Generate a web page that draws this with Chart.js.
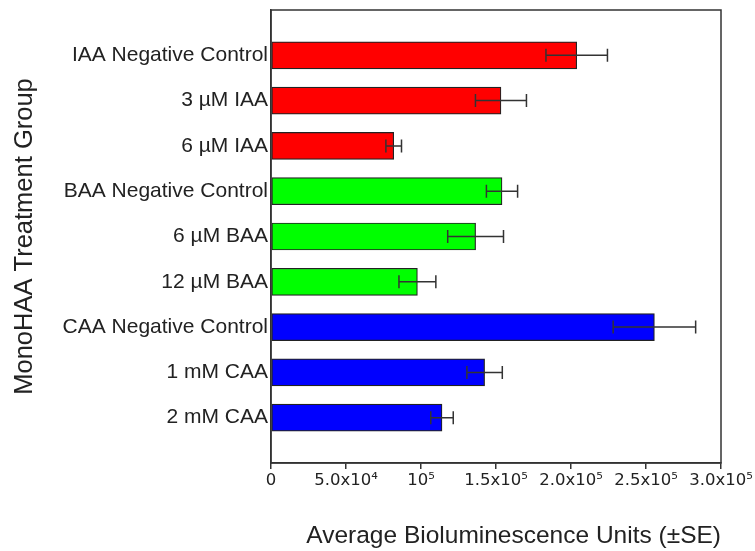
<!DOCTYPE html>
<html>
<head>
<meta charset="utf-8">
<script src="https://cdn.jsdelivr.net/npm/chart.js@4.4.0/dist/chart.umd.min.js"></script>
<style>
  html, body { margin: 0; padding: 0; background: #fff; }
  #wrap { width: 755px; height: 551px; }
</style>
</head>
<body>
<div id="wrap"><canvas id="c" width="755" height="551"></canvas></div>
<script>
const categories = ['IAA Negative Control', '3 µM IAA', '6 µM IAA', 'BAA Negative Control', '6 µM BAA', '12 µM BAA', 'CAA Negative Control', '1 mM CAA', '2 mM CAA'];
const means = [203800, 153300, 81800, 154000, 136400, 97600, 255600, 142400, 114000];
const stdErrors = [20500, 17000, 5200, 10400, 18600, 12300, 27500, 11800, 7500];
const barColors = ['#ff0000', '#ff0000', '#ff0000', '#00ff00', '#00ff00', '#00ff00', '#0000ff', '#0000ff', '#0000ff'];
const tickLabels = ['0', '5.0x10⁴', '10⁵', '1.5x10⁵', '2.0x10⁵', '2.5x10⁵', '3.0x10⁵'];
const xTitle = 'Average Bioluminescence Units (±SE)';
const yTitle = 'MonoHAA Treatment Group';

// pad the category axis with an empty slot at each end
const yLabels = [''].concat(categories, ['']);
const yData = [null].concat(means, [null]);
const yColors = ['#000'].concat(barColors, ['#000']);
const yErr = [null].concat(stdErrors, [null]);

const FONT = "'Liberation Sans', Arial, Helvetica, sans-serif";
const TICKFONT = "'DejaVu Sans', sans-serif";
const INK = '#333';

const errorBarPlugin = {
  id: 'errorBars',
  afterDatasetsDraw(chart) {
    const ctx = chart.ctx;
    const xs = chart.scales.x;
    const meta = chart.getDatasetMeta(0);
    ctx.save();
    ctx.strokeStyle = INK;
    ctx.lineWidth = 1.5;
    meta.data.forEach((bar, i) => {
      const v = yData[i], e = yErr[i];
      if (v == null || e == null) return;
      const y = bar.y;
      const x1 = xs.getPixelForValue(v - e);
      const x2 = xs.getPixelForValue(v + e);
      const cap = 6.5;
      ctx.beginPath();
      ctx.moveTo(x1, y); ctx.lineTo(x2, y);
      ctx.moveTo(x1, y - cap); ctx.lineTo(x1, y + cap);
      ctx.moveTo(x2, y - cap); ctx.lineTo(x2, y + cap);
      ctx.stroke();
    });
    ctx.restore();
  }
};

const framePlugin = {
  id: 'frame',
  afterDraw(chart) {
    const a = chart.chartArea;
    const ctx = chart.ctx;
    ctx.save();
    ctx.strokeStyle = INK;
    ctx.lineWidth = 1.5;
    ctx.strokeRect(a.left, a.top, a.right - a.left, a.bottom - a.top);
    ctx.restore();
  }
};

new Chart(document.getElementById('c'), {
  type: 'bar',
  data: {
    labels: yLabels,
    datasets: [{
      data: yData,
      backgroundColor: yColors,
      borderColor: '#222',
      borderWidth: 1.2,
      borderSkipped: false,
      barThickness: 27
    }]
  },
  plugins: [errorBarPlugin, framePlugin],
  options: {
    indexAxis: 'y',
    responsive: false,
    animation: false,
    devicePixelRatio: 1,
    layout: { padding: { left: 0, right: 34, top: 10, bottom: 0 } },
    plugins: { legend: { display: false }, tooltip: { enabled: false } },
    scales: {
      x: {
        type: 'linear',
        min: 0,
        max: 300000,
        afterBuildTicks(scale) {
          scale.ticks = tickLabels.map((t, i) => ({ value: i * 50000 }));
        },
        ticks: {
          autoSkip: false,
          maxRotation: 0,
          padding: 2,
          color: '#222',
          font: { family: TICKFONT, size: 16.5 },
          callback: (v, i) => tickLabels[i]
        },
        grid: { display: true, drawOnChartArea: false, drawTicks: true, tickLength: 6, color: INK, lineWidth: 1.5 },
        border: { display: true, color: INK, width: 1.5 },
        title: {
          display: true,
          align: 'end',
          text: xTitle,
          color: '#222',
          font: { family: FONT, size: 24.5 },
          padding: { top: 0, bottom: 0 }
        },
        afterFit(scale) { scale.height = 88; }
      },
      y: {
        type: 'category',
        offset: false,
        ticks: {
          autoSkip: false,
          padding: 3,
          color: '#222',
          font: { family: FONT, size: 21 }
        },
        grid: { display: false, drawTicks: false },
        border: { display: true, color: INK, width: 1.5 },
        title: {
          display: true,
          text: yTitle,
          color: '#222',
          font: { family: FONT, size: 25.5 },
          padding: { top: 10, bottom: 0 }
        },
        afterFit(scale) { scale.width = 271; scale.paddingTop = 0; scale.paddingBottom = 0; }
      }
    }
  }
});
</script>
</body>
</html>
